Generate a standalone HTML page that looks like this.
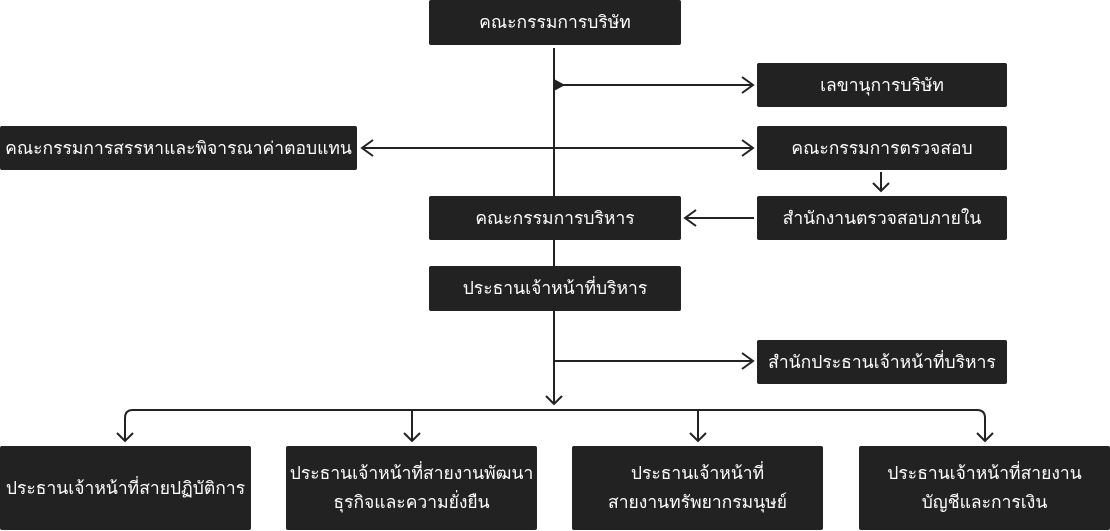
<!DOCTYPE html>
<html><head><meta charset="utf-8"><style>
body{margin:0;width:1110px;height:531px;background:#fff;position:relative;overflow:hidden;font-family:"Liberation Sans","DejaVu Sans",sans-serif}
.b{position:absolute;background:#222;color:#fff;display:flex;align-items:center;justify-content:center;text-align:center;font-size:17.5px;line-height:29px;border-radius:2px;white-space:nowrap}
svg{position:absolute;left:0;top:0}
</style></head><body>
<svg width="1110" height="531" fill="none" stroke="#222" stroke-width="2">
<line x1="554" y1="48" x2="554" y2="196"/>
<polygon points="554,79 565,85 554,91" fill="#222" stroke="none"/>
<line x1="554" y1="85" x2="753" y2="85"/><polyline points="742,77 753,85 742,93"/>
<line x1="362" y1="148" x2="753" y2="148"/><polyline points="742,140 753,148 742,156"/><polyline points="373,140 362,148 373,156"/>
<line x1="881" y1="172" x2="881" y2="191"/><polyline points="873,183 881,191 889,183"/>
<line x1="754" y1="218" x2="685" y2="218"/><polyline points="696,210 685,218 696,226"/>
<line x1="554" y1="240" x2="554" y2="266"/>
<line x1="554" y1="311" x2="554" y2="404"/><polyline points="546,396 554,404 562,396"/>
<line x1="554" y1="361" x2="753" y2="361"/><polyline points="742,353 753,361 742,369"/>
<path d="M125 441 V418 Q125 410 133 410 H977 Q985 410 985 418 V441"/>
<line x1="412" y1="410" x2="412" y2="441"/><line x1="698" y1="410" x2="698" y2="441"/>
<polyline points="117,433 125,441 133,433"/><polyline points="404,433 412,441 420,433"/><polyline points="690,433 698,441 706,433"/><polyline points="977,433 985,441 993,433"/>
</svg>
<div class="b" style="left:429px;top:0;width:252px;height:45px">คณะกรรมการบริษัท</div>
<div class="b" style="left:757px;top:63px;width:250px;height:44px">เลขานุการบริษัท</div>
<div class="b" style="left:0;top:126px;width:357px;height:44px">คณะกรรมการสรรหาและพิจารณาค่าตอบแทน</div>
<div class="b" style="left:757px;top:126px;width:250px;height:44px">คณะกรรมการตรวจสอบ</div>
<div class="b" style="left:429px;top:196px;width:252px;height:44px">คณะกรรมการบริหาร</div>
<div class="b" style="left:757px;top:196px;width:250px;height:44px">สำนักงานตรวจสอบภายใน</div>
<div class="b" style="left:429px;top:266px;width:252px;height:45px">ประธานเจ้าหน้าที่บริหาร</div>
<div class="b" style="left:757px;top:340px;width:250px;height:44px">สำนักประธานเจ้าหน้าที่บริหาร</div>
<div class="b" style="left:0;top:446px;width:251px;height:84px">ประธานเจ้าหน้าที่สายปฏิบัติการ</div>
<div class="b" style="left:286px;top:446px;width:251px;height:84px">ประธานเจ้าหน้าที่สายงานพัฒนา<br>ธุรกิจและความยั่งยืน</div>
<div class="b" style="left:572px;top:446px;width:251px;height:84px">ประธานเจ้าหน้าที่<br>สายงานทรัพยากรมนุษย์</div>
<div class="b" style="left:859px;top:446px;width:251px;height:84px">ประธานเจ้าหน้าที่สายงาน<br>บัญชีและการเงิน</div>
</body></html>
